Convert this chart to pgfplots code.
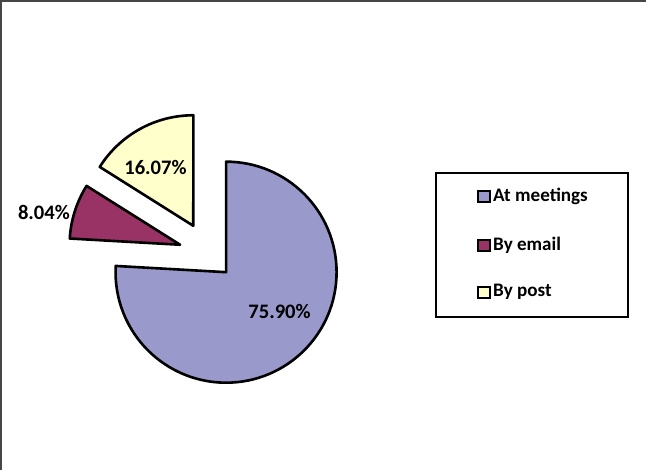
\documentclass[border=0pt]{standalone}
\usepackage{pgfplots}
\pgfplotsset{compat=1.18}
\usepackage{pgfplotstable}
\usepackage{fontspec}
\setmainfont{Carlito}
\definecolor{cmeet}{RGB}{153,153,204}
\definecolor{cemail}{RGB}{153,51,102}
\definecolor{cpost}{RGB}{255,255,204}
\definecolor{frame}{RGB}{70,70,70}

% share (%), explosion distance (pt)
\pgfplotstableread{
label share explode
meetings 75.90 25
email 8.04 30
post 16.07 32
}\piedata

\pgfplotstablegetelem{0}{share}\of\piedata \let\vA\pgfplotsretval
\pgfplotstablegetelem{1}{share}\of\piedata \let\vB\pgfplotsretval
\pgfplotstablegetelem{2}{share}\of\piedata \let\vC\pgfplotsretval
\pgfplotstablegetelem{0}{explode}\of\piedata \let\dA\pgfplotsretval
\pgfplotstablegetelem{1}{explode}\of\piedata \let\dB\pgfplotsretval
\pgfplotstablegetelem{2}{explode}\of\piedata \let\dC\pgfplotsretval

\pgfmathsetmacro\sA{90}
\pgfmathsetmacro\eA{\sA-3.6*\vA}
\pgfmathsetmacro\mA{(\sA+\eA)/2}
\pgfmathsetmacro\sB{\eA}
\pgfmathsetmacro\eB{\sB-3.6*\vB}
\pgfmathsetmacro\mB{(\sB+\eB)/2}
\pgfmathsetmacro\sC{\eB}
\pgfmathsetmacro\eC{\sC-3.6*\vC}
\pgfmathsetmacro\mC{(\sC+\eC)/2}

\begin{document}
\begin{tikzpicture}
\begin{axis}[
  scale only axis, width=647pt, height=472pt,
  xmin=0, xmax=647, ymin=0, ymax=472,
  hide axis, clip=false,
]
% frame (top and left edges)
\draw[frame, line width=1.5pt] (axis cs:4.5,0) -- (axis cs:4.5,467.5) -- (axis cs:647,467.5);

% pie slices
\def\R{110pt}
\draw[fill=cmeet, line width=2.6pt, line join=round]
  (axis cs:211.6,215.5) ++(\mA:\dA pt) -- ++(\sA:\R) arc[start angle=\sA, end angle=\eA, radius=\R] -- cycle;
\draw[fill=cemail, line width=2.6pt, line join=round]
  (axis cs:211.6,215.5) ++(\mB:\dB pt) -- ++(\sB:\R) arc[start angle=\sB, end angle=\eB, radius=\R] -- cycle;
\draw[fill=cpost, line width=2.6pt, line join=round]
  (axis cs:211.6,215.5) ++(\mC:\dC pt) -- ++(\sC:\R) arc[start angle=\sC, end angle=\eC, radius=\R] -- cycle;

% data labels
\node[font=\fontsize{20.5}{24}\selectfont\bfseries] at (axis cs:282,158) {75.90\%};
\node[font=\fontsize{20.5}{24}\selectfont\bfseries] at (axis cs:47.5,257) {8.04\%};
\node[font=\fontsize{20.5}{24}\selectfont\bfseries] at (axis cs:158.5,302) {16.07\%};

% legend
\draw[line width=1.6pt] (axis cs:438,296) rectangle (axis cs:629,153);
\draw[fill=cmeet, line width=2pt] (axis cs:480,267) rectangle (axis cs:491,278);
\draw[fill=cemail, line width=2pt] (axis cs:480,218) rectangle (axis cs:491,229);
\draw[fill=cpost, line width=2pt] (axis cs:480,172) rectangle (axis cs:491,183);
\node[anchor=west, inner sep=0pt, font=\fontsize{19}{22}\selectfont\bfseries] at (axis cs:494.5,273) {At meetings};
\node[anchor=west, inner sep=0pt, font=\fontsize{19}{22}\selectfont\bfseries] at (axis cs:494.5,224) {By email};
\node[anchor=west, inner sep=0pt, font=\fontsize{19}{22}\selectfont\bfseries] at (axis cs:494.5,178) {By post};
\end{axis}
\end{tikzpicture}
\end{document}
